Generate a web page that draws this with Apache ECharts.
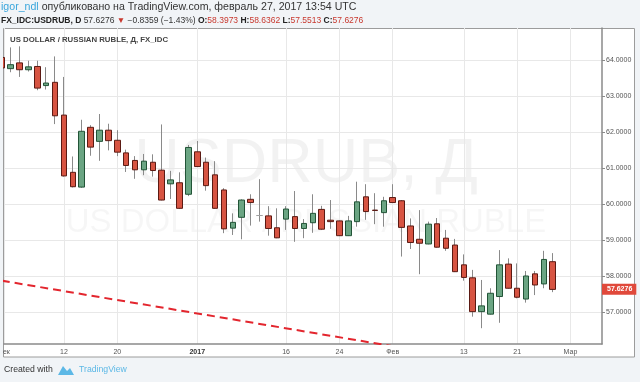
<!DOCTYPE html>
<html><head><meta charset="utf-8">
<script src="https://cdn.jsdelivr.net/npm/echarts@6/dist/echarts.min.js"></script>
<style>html,body{margin:0;padding:0;background:#f1f4f7;}#c{width:640px;height:382px;}</style>
</head><body><div id="c"></div>
<script>
// trading days (Dec 1 2016 .. Mar 1 2017)
const dates = [
 '2016-12-01','2016-12-02','2016-12-05','2016-12-06','2016-12-07','2016-12-08','2016-12-09',
 '2016-12-12','2016-12-13','2016-12-14','2016-12-15','2016-12-16','2016-12-19','2016-12-20',
 '2016-12-21','2016-12-22','2016-12-23','2016-12-26','2016-12-27','2016-12-28','2016-12-29','2016-12-30',
 '2017-01-02','2017-01-03','2017-01-04','2017-01-05','2017-01-06','2017-01-09','2017-01-10',
 '2017-01-11','2017-01-12','2017-01-13','2017-01-16','2017-01-17','2017-01-18','2017-01-19',
 '2017-01-20','2017-01-23','2017-01-24','2017-01-25','2017-01-26','2017-01-27','2017-01-30','2017-01-31',
 '2017-02-01','2017-02-02','2017-02-03','2017-02-06','2017-02-07','2017-02-08','2017-02-09',
 '2017-02-10','2017-02-13','2017-02-14','2017-02-15','2017-02-16','2017-02-17','2017-02-20',
 '2017-02-21','2017-02-22','2017-02-23','2017-02-24','2017-02-27','2017-02-28','2017-03-01'
];
const openV = [64.07,63.76,63.92,63.73,63.82,63.29,63.38,62.47,60.88,60.47,62.13,61.74,62.05,61.77,
 61.42,61.21,60.95,61.16,60.94,60.56,60.59,60.27,61.45,61.16,60.81,60.39,59.33,59.63,60.13,
 59.68,59.67,59.34,59.58,59.65,59.32,59.48,59.85,59.55,59.53,59.12,59.51,60.20,59.83,59.76,
 60.18,60.09,59.39,59.02,58.89,59.45,59.05,58.86,58.31,57.95,57.01,56.94,57.43,58.33,
 57.66,57.36,58.06,57.78,58.3973];
const closeV = [63.78,63.87,63.73,63.81,63.22,63.36,62.45,60.78,60.48,62.02,61.58,62.05,61.76,61.44,
 61.07,60.95,61.19,60.93,60.11,60.67,59.88,61.57,61.04,60.51,59.88,59.31,59.49,60.11,60.04,
 59.68,59.32,59.06,59.86,59.32,59.46,59.74,59.30,59.51,59.12,59.53,60.06,59.79,59.82,60.09,
 60.04,59.35,58.93,58.91,59.44,58.80,58.77,58.12,57.96,57.01,57.17,57.52,58.31,57.66,
 57.41,58.00,57.75,58.46,57.6276];
const lowV = [63.70,63.66,63.53,63.68,63.16,63.18,62.22,60.76,60.46,60.45,61.34,61.20,61.49,61.33,
 60.89,60.70,60.80,60.76,60.10,60.14,59.86,60.22,61.03,60.37,59.87,59.19,59.14,59.02,59.40,
 59.51,59.12,59.05,59.28,58.95,59.05,59.20,59.28,59.31,59.11,59.11,59.37,59.56,59.44,59.37,
 60.03,58.54,58.75,58.05,58.88,58.79,58.70,58.11,57.87,56.87,56.55,56.93,56.70,57.65,
 57.38,57.26,57.47,57.66,57.5513];
const highV = [64.25,64.35,64.38,63.98,63.98,63.80,64.10,63.53,61.32,62.34,62.19,62.50,62.23,62.05,
 61.51,61.33,61.39,61.38,62.21,60.92,60.88,61.64,61.75,61.29,61.19,60.44,59.74,60.13,60.27,
 60.69,59.94,59.88,59.94,60.36,59.58,60.27,59.95,60.11,59.54,59.67,60.62,60.55,60.30,60.20,
 60.55,60.11,59.60,59.83,59.51,59.61,59.28,59.03,58.60,58.17,57.89,57.66,58.72,58.49,
 58.35,58.14,58.14,58.70,58.6362];
// x-axis tick labels
const tickDates = ['2016-12-01','2016-12-12','2016-12-20','2017-01-02','2017-01-16','2017-01-24','2017-02-01','2017-02-13','2017-02-21','2017-03-01'];
const tickLabels = ['Дек','12','20','2017','16','24','Фев','13','21','Мар'];
// y-axis ticks
const yTicks = [57,58,59,60,61,62,63,64];
// dashed trend line anchors
const trendDates = ['2016-12-01','2017-02-01'];
const trendValues = [57.87,56.05];
const lastClose = closeV[closeV.length-1];

const X_MIN = 0.25, X_MAX = 67.55;
const tickIdx = tickDates.map(d => dates.indexOf(d));
const tickPos = tickIdx.map(v => Math.max(v, X_MIN));
const wickData = openV.map((o,k) => [k, o, closeV[k], lowV[k], highV[k]]);
const bodyData = openV.map((o,k) => [k, o, closeV[k], Math.min(o,closeV[k]), Math.max(o,closeV[k])]);
const trendData = trendDates.map((d,k) => [dates.indexOf(d), trendValues[k]]);

const chart = echarts.init(document.getElementById('c'), null, {renderer:'canvas'});
const FF = '"Liberation Sans", Arial, sans-serif';
chart.setOption({
  animation: false,
  backgroundColor: '#f1f4f7',
  textStyle: {fontFamily: FF},
  grid: {left: 4, right: 38, top: 28, bottom: 38, containLabel: false, outerBoundsMode: 'none'},
  xAxis: {
    type: 'value', min: X_MIN, max: X_MAX,
    axisLine: {show: true, onZero: false, lineStyle: {color: '#8a8a8a', width: 1.5}},
    axisTick: {show: false, customValues: tickPos},
    axisLabel: {customValues: tickPos, color: '#555', fontSize: 7, margin: 5, fontFamily: FF,
      formatter: v => { const k = tickIdx.indexOf(Math.round(v)); const t = k >= 0 ? tickLabels[k] : ''; return t === '2017' ? '{b|' + t + '}' : t; },
      rich: {b: {fontWeight: 'bold', color: '#333', fontSize: 7, fontFamily: FF}}},
    splitLine: {show: true, lineStyle: {color: '#e8e8e8', width: 1}}
  },
  yAxis: {
    type: 'value', position: 'right', min: 56.111, max: 64.889,
    axisLine: {show: true, lineStyle: {color: '#8a8a8a', width: 1.5}},
    axisTick: {show: true, customValues: yTicks, length: 3, lineStyle: {color: '#8a8a8a'}},
    axisLabel: {customValues: yTicks, formatter: v => v.toFixed(4), color: '#555', fontSize: 7, margin: 4, fontFamily: FF},
    splitLine: {show: true, lineStyle: {color: '#e8e8e8', width: 1}}
  },
  graphic: [
    {type: 'rect', z: -10, silent: true, shape: {x: 3.5, y: 28.5, width: 631, height: 328.5},
     style: {fill: '#fff', stroke: '#9c9c9c', lineWidth: 1}},
    {type: 'rect', z: 100, silent: true, shape: {x: 0, y: 28, width: 3, height: 330},
     style: {fill: '#f1f4f7'}},
    {type: 'text', z: -5, silent: true, style: {text: 'USDRUB, Д', x: 306, y: 165, align: 'center', verticalAlign: 'middle',
      font: '63px ' + FF, fill: 'rgba(0,0,0,0.05)'}},
    {type: 'text', z: -5, silent: true, style: {text: 'US DOLLAR / RUSSIAN RUBLE', x: 306, y: 223, align: 'center', verticalAlign: 'middle',
      font: '33px ' + FF, fill: 'rgba(0,0,0,0.035)'}},
    {type: 'text', z: 50, silent: true, style: {text: 'US DOLLAR / RUSSIAN RUBLE, Д, FX_IDC', x: 10, y: 40, verticalAlign: 'middle',
      font: 'bold 7.8px ' + FF, fill: '#444'}},
    {type: 'text', z: 50, silent: true, style: {
      text: '{u|igor_ndl} опубликовано на TradingView.com, февраль 27, 2017 13:54 UTC', x: 1, y: 7, verticalAlign: 'middle',
      font: '10.6px ' + FF, fill: '#333', rich: {u: {fill: '#3aa6dc', font: '10.6px ' + FF}}}},
    {type: 'text', z: 50, silent: true, style: {
      text: '{b|FX_IDC:USDRUB, D} 57.6276 {r|▼} −0.8359 (−1.43%) {b|O:}{r|58.3973} {b|H:}{r|58.6362} {b|L:}{r|57.5513} {b|C:}{r|57.6276}',
      x: 1, y: 20.5, verticalAlign: 'middle', font: '8.5px ' + FF, fill: '#333',
      rich: {b: {font: 'bold 8.5px ' + FF, fill: '#222'}, r: {font: '8.5px ' + FF, fill: '#c8382e'}}}},
    {type: 'text', z: 50, silent: true, style: {text: 'Created with', x: 4, y: 370, verticalAlign: 'middle', font: '8.7px ' + FF, fill: '#333'}},
    {type: 'polygon', z: 50, silent: true, shape: {points: [[58,375],[63,366],[67,371],[70,368],[74,375]]}, style: {fill: '#5cb8e6'}},
    {type: 'text', z: 50, silent: true, style: {text: 'TradingView', x: 79, y: 370, verticalAlign: 'middle', font: '8.7px ' + FF, fill: '#5cb8e6'}}
  ],
  series: [
    {type: 'line', data: trendData, showSymbol: false, symbol: 'none', clip: true, z: 1, silent: true,
     lineStyle: {color: '#e3262e', width: 2, type: [8, 5]}},
    {type: 'candlestick', data: wickData, barWidth: 1, silent: true, z: 2,
     itemStyle: {color: '#8a8a8a', color0: '#8a8a8a', borderColor: '#8a8a8a', borderColor0: '#8a8a8a', borderColorDoji: '#8a8a8a', borderWidth: 1}},
    {type: 'candlestick', data: bodyData, barWidth: 6, silent: true, z: 3,
     itemStyle: {color: '#6ba583', color0: '#d75442', borderColor: '#225437', borderColor0: '#5b1a13', borderColorDoji: '#a0a0a0', borderWidth: 1},
     markLine: {silent: true, symbol: 'none', animation: false, z: 10,
       lineStyle: {color: 'rgba(0,0,0,0)', width: 0, opacity: 1},
       label: {show: true, position: 'end', distance: 0, formatter: () => lastClose.toFixed(4), color: '#fff', backgroundColor: '#e0493b',
         fontSize: 7, fontWeight: 'bold', padding: [2, 4, 2, 5], fontFamily: FF, opacity: 1},
       emphasis: {disabled: true},
       data: [{yAxis: lastClose}]}}
  ]
});
</script></body></html>
